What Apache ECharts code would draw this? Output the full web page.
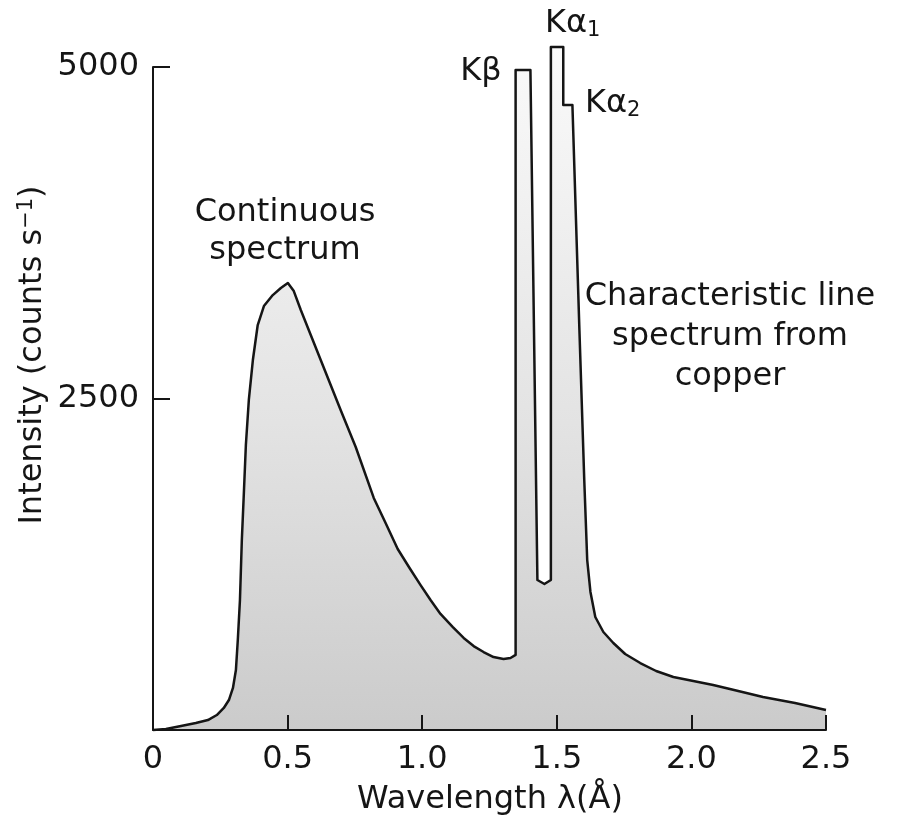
<!DOCTYPE html>
<html>
<head>
<meta charset="utf-8">
<title>X-ray spectrum of copper</title>
<script src="https://cdn.jsdelivr.net/npm/echarts@6/dist/echarts.min.js"></script>
<style>
  html, body { margin: 0; padding: 0; background: #fff; }
  #main { width: 904px; height: 827px; }
</style>
</head>
<body>
<div id="main"></div>
<script>
// wavelength (Å) and intensity (counts/s), left to right
var lambda = [0, 0.048, 0.104, 0.159, 0.204, 0.237, 0.263, 0.282, 0.297, 0.308, 0.315, 0.323, 0.330, 0.338,
  0.345, 0.356, 0.371, 0.389, 0.412, 0.445, 0.475, 0.501, 0.523, 0.549, 0.586, 0.623, 0.697, 0.753,
  0.820, 0.864, 0.909, 0.953, 0.994, 1.031, 1.068, 1.113, 1.154, 1.191, 1.228, 1.265, 1.302, 1.328,
  1.347, 1.347, 1.402, 1.428, 1.454, 1.478, 1.478, 1.524, 1.524, 1.558,
  1.584, 1.602, 1.613, 1.625, 1.643, 1.673, 1.710, 1.754, 1.810, 1.869, 1.933, 2.007, 2.081,
  2.174, 2.266, 2.385, 2.5];
var intensity = [0, 8, 30, 53, 75, 113, 166, 226, 317, 452, 679, 980, 1433, 1810,
  2149, 2489, 2790, 3054, 3197, 3280, 3333, 3371, 3310, 3167, 2979, 2790, 2413, 2134,
  1750, 1561, 1365, 1222, 1093, 980, 875, 777, 694, 633, 588, 550, 535, 543,
  566, 4977, 4977, 1131, 1101, 1131, 5151, 5151, 4713, 4713,
  3016, 1885, 1282, 1041, 852, 739, 656, 573, 505, 445, 400, 370, 339,
  294, 249, 204, 151];

var xTicks = [0, 0.5, 1.0, 1.5, 2.0, 2.5];
var yTicks = [0, 2500, 5000];

var font = 'DejaVu Sans';
var ink = '#151515';

var points = [];
for (var i = 0; i < lambda.length; i++) {
  points.push([lambda[i], intensity[i]]);
}

var myChart = echarts.init(document.getElementById('main'));

var option = {
  backgroundColor: '#fff',
  animation: false,
  grid: { left: 153, right: 78, top: 67, bottom: 97 },
  xAxis: {
    type: 'value',
    z: 5,
    min: xTicks[0],
    max: xTicks[xTicks.length - 1],
    interval: 0.5,
    axisLine: { lineStyle: { color: ink, width: 2 } },
    axisTick: { inside: true, length: 15, lineStyle: { color: ink, width: 2 } },
    axisLabel: {
      margin: 14, fontSize: 32, fontFamily: font, color: ink,
      formatter: function (v) { return v === 0 ? '0' : v.toFixed(1); }
    },
    splitLine: { show: false }
  },
  yAxis: {
    type: 'value',
    z: 5,
    min: yTicks[0],
    max: yTicks[yTicks.length - 1],
    interval: 2500,
    axisLine: { show: true, lineStyle: { color: ink, width: 2 } },
    axisTick: { show: true, inside: true, length: 17, lineStyle: { color: ink, width: 2 } },
    axisLabel: {
      margin: 14, fontSize: 32, fontFamily: font, color: ink,
      formatter: function (v) { return v === 0 ? '' : String(v); }
    },
    splitLine: { show: false }
  },
  series: [
    {
      type: 'line',
      data: points,
      clip: false,
      showSymbol: false,
      smooth: false,
      lineStyle: { color: ink, width: 2.5, join: 'round' },
      areaStyle: {
        opacity: 1,
        color: new echarts.graphic.LinearGradient(0, 0, 0, 1, [
          { offset: 0, color: '#fafafa' },
          { offset: 0.55, color: '#e3e3e3' },
          { offset: 1, color: '#cbcbcb' }
        ])
      }
    }
  ],
  graphic: [
    {
      type: 'text', x: 33, y: 355, rotation: Math.PI / 2,
      style: {
        text: '{m|Intensity (counts s}{u|−1}{m|)}',
        align: 'center', verticalAlign: 'middle', fill: ink,
        rich: {
          m: { fontSize: 32, fontFamily: font, fill: ink, lineHeight: 34 },
          u: { fontSize: 21, fontFamily: font, fill: ink, lineHeight: 10, verticalAlign: 'top' }
        }
      }
    },
    {
      type: 'text', x: 490, y: 800,
      style: { text: 'Wavelength λ(Å)', font: '32px "DejaVu Sans"', fill: ink, align: 'center', verticalAlign: 'middle' }
    },
    {
      type: 'text', x: 285, y: 232,
      style: { text: 'Continuous\nspectrum', font: '32px "DejaVu Sans"', lineHeight: 38, fill: ink, align: 'center', verticalAlign: 'middle' }
    },
    {
      type: 'text', x: 730, y: 337,
      style: { text: 'Characteristic line\nspectrum from\ncopper', font: '32px "DejaVu Sans"', lineHeight: 40, fill: ink, align: 'center', verticalAlign: 'middle' }
    },
    {
      type: 'text', x: 481, y: 72,
      style: { text: 'Kβ', font: '32px "DejaVu Sans"', fill: ink, align: 'center', verticalAlign: 'middle' }
    },
    {
      type: 'text', x: 545, y: 24,
      style: {
        text: '{m|Kα}{s|1}', align: 'left', verticalAlign: 'middle', fill: ink,
        rich: {
          m: { fontSize: 32, fontFamily: font, fill: ink, lineHeight: 34 },
          s: { fontSize: 21, fontFamily: font, fill: ink, lineHeight: 10, verticalAlign: 'bottom' }
        }
      }
    },
    {
      type: 'text', x: 585, y: 104,
      style: {
        text: '{m|Kα}{s|2}', align: 'left', verticalAlign: 'middle', fill: ink,
        rich: {
          m: { fontSize: 32, fontFamily: font, fill: ink, lineHeight: 34 },
          s: { fontSize: 21, fontFamily: font, fill: ink, lineHeight: 10, verticalAlign: 'bottom' }
        }
      }
    }
  ]
};

myChart.setOption(option);
</script>
</body>
</html>
